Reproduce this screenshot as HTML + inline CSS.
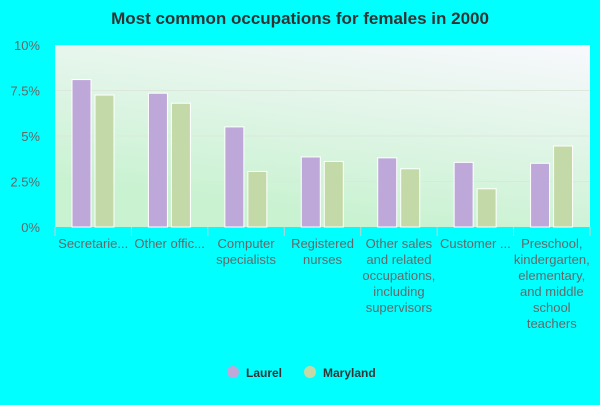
<!DOCTYPE html>
<html><head><meta charset="utf-8"><style>
body{margin:0;background:#00ffff;width:600px;height:400px;overflow:hidden;font-family:"Liberation Sans",sans-serif}
</style></head><body>
<svg width="600" height="400" xmlns="http://www.w3.org/2000/svg">
<defs>
<linearGradient id="bg" x1="1" y1="0" x2="0.6" y2="1">
<stop offset="0" stop-color="#f8f8fd"/><stop offset="1" stop-color="#c8f2d0"/>
</linearGradient>
</defs>
<text x="300" y="24" text-anchor="middle" font-size="17" font-weight="bold" fill="#333">Most common occupations for females in 2000</text>
<rect x="55" y="45" width="535" height="182" fill="url(#bg)"/>
<g id="grid"></g><g id="bars"></g><g id="xl"></g>
<g>
<circle cx="233" cy="372" r="6" fill="#bea8d9"/>
<text x="246" y="377" font-size="12" font-weight="bold" fill="#333">Laurel</text>
<circle cx="310" cy="372" r="6" fill="#c4d9a8"/>
<text x="323" y="377" font-size="12" font-weight="bold" fill="#333">Maryland</text>
</g>
</svg>
<script>
const categories=[["Secretarie..."],["Other offic..."],["Computer","specialists"],["Registered","nurses"],["Other sales","and related","occupations,","including","supervisors"],["Customer ..."],["Preschool,","kindergarten,","elementary,","and middle","school","teachers"]];
const laurel=[8.1,7.35,5.5,3.85,3.8,3.55,3.5];
const maryland=[7.25,6.8,3.05,3.6,3.2,2.1,4.45];
const ticks=[0,2.5,5,7.5,10];
const tickLabels=["0%","2.5%","5%","7.5%","10%"];
const NS="http://www.w3.org/2000/svg";
const x0=55,w=535,y0=227,h=182,ymax=10;
const gw=w/categories.length;
const y=v=>y0-v/ymax*h;
function mk(t,a,p){const e=document.createElementNS(NS,t);for(const k in a)e.setAttribute(k,a[k]);p.appendChild(e);return e;}
const grid=document.getElementById('grid'),bars=document.getElementById('bars'),xl=document.getElementById('xl');
ticks.forEach((t,i)=>{
 if(t>0&&t<10){const l=mk('line',{x1:x0,x2:x0+w,y1:y(t),y2:y(t),stroke:'#dde8dd','stroke-width':1},grid);
 
 }
 const tx=mk('text',{x:40,y:y(t)+5,'text-anchor':'end','font-size':13,fill:'#666'},grid);
 tx.textContent=tickLabels[i];
 
 
});
categories.forEach((c,i)=>{
 const gx=x0+i*gw;
 const tk=mk('line',{x1:gx,x2:gx,y1:227,y2:236,stroke:'#ccc'},xl);
 
 
 const b1=mk('rect',{x:gx+17,y:y(laurel[i]),width:19,height:y0-y(laurel[i]),fill:'#bea8d9',stroke:'#fff','stroke-width':1},bars);
 
 
 const b2=mk('rect',{x:gx+40,y:y(maryland[i]),width:19,height:y0-y(maryland[i]),fill:'#c4d9a8',stroke:'#fff','stroke-width':1},bars);
 
 
 c.forEach((line,j)=>{
  const t=mk('text',{x:gx+gw/2,y:248+j*16,'text-anchor':'middle','font-size':13,fill:'#666'},xl);
  t.textContent=line;
  
  
 });
});
const tk=mk('line',{x1:x0+w,x2:x0+w,y1:227,y2:236,stroke:'#ccc'},xl);


</script>
</body></html>
